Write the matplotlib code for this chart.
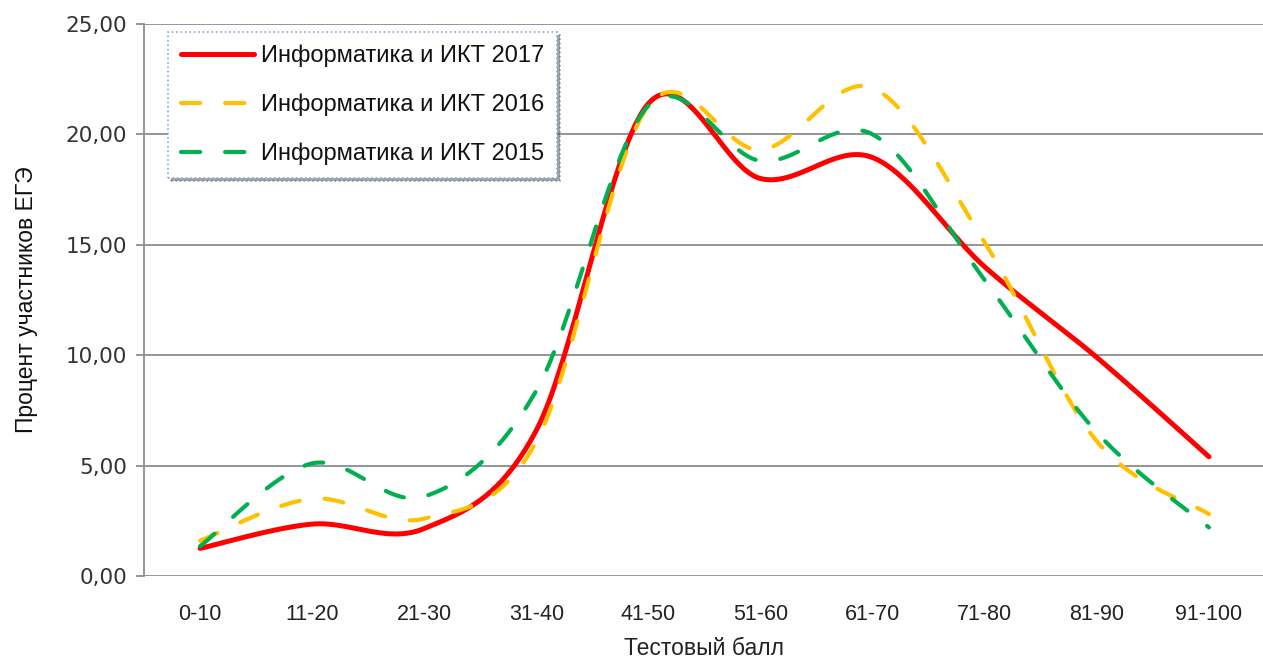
import numpy as np
import matplotlib
matplotlib.use("Agg")
import matplotlib.pyplot as plt
from matplotlib.ticker import FuncFormatter

categories = ['0-10', '11-20', '21-30', '31-40', '41-50', '51-60', '61-70', '71-80', '81-90', '91-100']
series_2017 = [1.25, 2.35, 2.15, 6.6, 21.4, 18.0, 18.95, 14.0, 9.9, 5.4]
series_2016 = [1.6, 3.5, 2.6, 6.1, 21.3, 19.3, 22.1, 15.1, 6.1, 2.8]
series_2015 = [1.35, 5.1, 3.6, 8.4, 21.3, 18.8, 20.0, 13.4, 6.5, 2.2]
labels = ['Информатика и ИКТ 2017', 'Информатика и ИКТ 2016', 'Информатика и ИКТ 2015']
yticks = [0, 5, 10, 15, 20, 25]


def smooth(xs, ys, n=40):
    """Excel-like smoothed line: cubic Bezier with Catmull-Rom control points."""
    xs = np.asarray(xs, float)
    ys = np.asarray(ys, float)
    P = np.column_stack([xs, ys])
    out = []
    m = len(P)
    for i in range(m - 1):
        p0 = P[i - 1] if i > 0 else P[i]
        p1 = P[i]
        p2 = P[i + 1]
        p3 = P[i + 2] if i + 2 < m else P[i + 1]
        c1 = p1 + (p2 - p0) / 6.0
        c2 = p2 - (p3 - p1) / 6.0
        t = np.linspace(0, 1, n, endpoint=(i == m - 2))[:, None]
        b = ((1 - t) ** 3) * p1 + 3 * ((1 - t) ** 2) * t * c1 + 3 * (1 - t) * t ** 2 * c2 + t ** 3 * p2
        out.append(b)
    out = np.vstack(out)
    return out[:, 0], out[:, 1]


W, H = 1263, 663
fig = plt.figure(figsize=(W / 100, H / 100), dpi=100)
ax = fig.add_axes([144 / W, 87 / H, 1121 / W, 552 / H])

x = np.arange(len(categories))
grey = '#8c8c8c'
narrow = ['Liberation Sans Narrow', 'Liberation Sans', 'DejaVu Sans']

styles = [
    dict(color='#ff0000', lw=3.6, ls='-'),
    dict(color='#ffc000', lw=3.0, ls=(0, (4.6, 6.0))),
    dict(color='#00b050', lw=3.0, ls=(0, (4.6, 6.0))),
]
handles = []
for data, lab, st in zip([series_2017, series_2016, series_2015], labels, styles):
    sx, sy = smooth(x, data)
    h, = ax.plot(sx, sy, color=st['color'], lw=st['lw'], linestyle=st['ls'],
                 solid_capstyle='round', dash_capstyle='round', label=lab, zorder=3)
    handles.append(h)

ax.set_xlim(-0.5, len(categories) - 0.5)
ax.set_ylim(0, 25)
ax.set_yticks(yticks)
ax.yaxis.set_major_formatter(FuncFormatter(lambda v, p: f'{v:.2f}'.replace('.', ',')))
ax.set_xticks(x)
ax.set_xticklabels(categories, family=narrow, fontsize=15.5, color='#222222')

ax.grid(axis='y', color=grey, lw=1.3, zorder=0)
ax.set_axisbelow(True)
for s in ['top', 'right', 'bottom']:
    ax.spines[s].set_visible(False)
ax.spines['left'].set_color(grey)
ax.spines['left'].set_linewidth(1.3)
ax.tick_params(axis='y', length=6, width=1.3, color=grey, labelsize=15.5, labelcolor='#333333', pad=6)
ax.tick_params(axis='x', length=0, pad=20)
for lab in ax.get_yticklabels():
    lab.set_family('DejaVu Sans')

ax.set_ylabel('Процент участников ЕГЭ', family=narrow, fontsize=16.5, color='#111111', labelpad=20)
ax.set_xlabel('Тестовый балл', family=narrow, fontsize=16.5, color='#222222', labelpad=9)

leg = ax.legend(handles=handles, loc='upper left', bbox_to_anchor=(0.0214, 0.9855),
                borderaxespad=0, frameon=True, fancybox=False, shadow=True,
                prop={'family': ['Liberation Sans', 'DejaVu Sans'], 'size': 17},
                handlelength=3.1, handletextpad=0.3, labelspacing=1.12,
                borderpad=0.55)
fr = leg.get_frame()
fr.set_edgecolor('#7fa7e0')
fr.set_linestyle(':')
fr.set_linewidth(1.2)
fr.set_facecolor('white')
for t in leg.get_texts():
    t.set_color('#111111')

fig.savefig('out.png', dpi=100)
